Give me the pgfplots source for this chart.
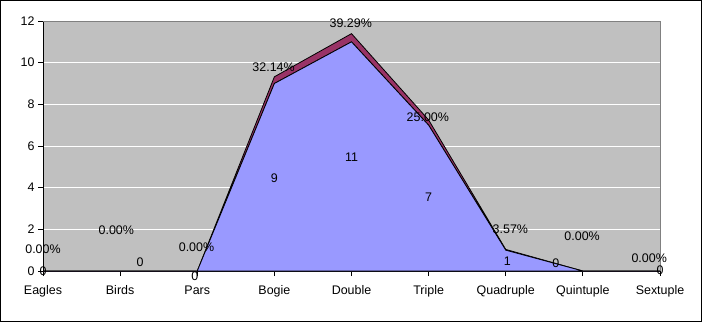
\documentclass[border=0pt]{standalone}
\usepackage{pgfplots}
\pgfplotsset{compat=1.18}
\usepackage{fontspec}
\setmainfont{Liberation Sans}
\definecolor{bgray}{HTML}{C0C0C0}
\definecolor{blu}{HTML}{9999FF}
\definecolor{mar}{HTML}{993366}
\definecolor{pgray}{HTML}{808080}
\begin{document}
\begin{tikzpicture}[x=1bp,y=1bp]
\useasboundingbox (0,0) rectangle (702,322);
\draw[line width=1bp] (0.5,0.5) rectangle (701.5,321.5);
\begin{axis}[at={(43bp,51bp)}, anchor=south west, scale only axis,
  width=617bp, height=250bp,
  xmin=0, xmax=8, ymin=0, ymax=12,
  ytick={0,2,...,12}, xtick={0,...,8},
  xticklabels={Eagles,Birds,Pars,Bogie,Double,Triple,Quadruple,Quintuple,Sextuple},
  axis background/.style={fill=bgray},
  ymajorgrids, grid style={white, line width=1bp},
  axis lines=left, axis line style={-, black, line width=0.8bp},
  tick align=outside, major tick length=5bp, tick style={black, line width=0.8bp},
  font=\fontsize{12.5}{14}\selectfont,
  /pgf/number format/assume math mode=true,
  xticklabel style={yshift=-6bp},
  stack plots=y, clip=false,
  after end axis/.code={\draw[pgray, line width=0.8bp] (rel axis cs:0,1) -- (rel axis cs:1,1) -- (rel axis cs:1,0);}
]
\addplot[fill=blu, draw=black, line width=0.8bp] coordinates {(0,0) (1,0) (2,0) (3,9) (4,11) (5,7) (6,1) (7,0) (8,0)} \closedcycle;
\addplot[fill=mar, draw=black, line width=0.8bp] coordinates {(0,0) (1,0) (2,0) (3,0.3214) (4,0.3929) (5,0.25) (6,0.0357) (7,0) (8,0)} \closedcycle;
\coordinate (p1) at (axis cs:0,1.06);
\coordinate (p2) at (axis cs:0.95,1.97);
\coordinate (p3) at (axis cs:1.99,1.15);
\coordinate (p4) at (axis cs:2.99,9.79);
\coordinate (p5) at (axis cs:3.99,11.9);
\coordinate (p6) at (axis cs:4.99,7.39);
\coordinate (p7) at (axis cs:6.06,2.02);
\coordinate (p8) at (axis cs:6.99,1.68);
\coordinate (p9) at (axis cs:7.86,0.62);
\coordinate (v1) at (axis cs:0,0);
\coordinate (v2) at (axis cs:1.26,0.43);
\coordinate (v3) at (axis cs:1.97,-0.24);
\coordinate (v4) at (axis cs:3,4.46);
\coordinate (v5) at (axis cs:4,5.47);
\coordinate (v6) at (axis cs:5,3.55);
\coordinate (v7) at (axis cs:6.02,0.48);
\coordinate (v8) at (axis cs:6.65,0.38);
\coordinate (v9) at (axis cs:8,0.05);
\end{axis}
\begin{scope}[font=\fontsize{12.5}{14}\selectfont]
\node at (p1) {0.00\%};
\node at (p2) {0.00\%};
\node at (p3) {0.00\%};
\node at (p4) {32.14\%};
\node at (p5) {39.29\%};
\node at (p6) {25.00\%};
\node at (p7) {3.57\%};
\node at (p8) {0.00\%};
\node at (p9) {0.00\%};
\node at (v1) {0};
\node at (v2) {0};
\node at (v3) {0};
\node at (v4) {9};
\node at (v5) {11};
\node at (v6) {7};
\node at (v7) {1};
\node at (v8) {0};
\node at (v9) {0};
\end{scope}
\end{tikzpicture}
\end{document}
